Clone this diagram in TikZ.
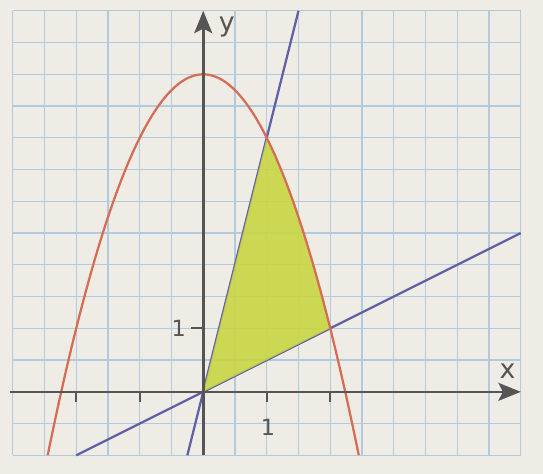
\documentclass[tikz,border=0pt]{standalone}
\usepackage{fontspec}
\setmainfont{DejaVu Sans}
\usetikzlibrary{arrows.meta}

\begin{document}
\begin{tikzpicture}
\definecolor{paper}{RGB}{239,235,229}
\definecolor{gridblue}{RGB}{176,203,222}
\definecolor{axisgray}{RGB}{85,85,85}
\definecolor{parab}{RGB}{214,108,84}
\definecolor{lineblue}{RGB}{96,96,168}
\definecolor{area}{RGB}{200,214,64}

% Paper and frame
\fill[paper] (-3.2,-1.29) rectangle (5.35,6.17);
\useasboundingbox (-3.2,-1.29) rectangle (5.35,6.17);

% Grid (half units)
\draw[gridblue, line width=0.55pt] (-3,-1) grid[step=0.5] (5,6);

% Straight lines y=4x and y=x/2
\draw[lineblue, line width=1pt] (-0.25,-1) -- (1.5,6);
\draw[lineblue, line width=1pt] (-2,-1) -- (5,2.5);

% Shaded area
\fill[area, fill opacity=0.88] (0,0) -- (1,4) -- plot[domain=1:2, samples=30, smooth] (\x,{5-\x*\x}) -- cycle;

% Parabola y=5-x^2
\draw[parab, line width=1pt] plot[domain=-2.449:2.449, samples=80, smooth] (\x,{5-\x*\x});

% ---- AXES ----
\draw[axisgray, line width=1.2pt, -{Stealth[length=10pt, width=8pt, inset=2pt]}] (-3.05,0) -- (5,0);
\draw[axisgray, line width=1.2pt, -{Stealth[length=10pt, width=8pt, inset=2pt]}] (0,-1) -- (0,6);
\node[text=axisgray, font=\large] (xlab) at (4.79,0.33) {x};
\node[text=axisgray, font=\large] (ylab) at (0.37,5.75) {y};

% Ticks
\foreach \t in {-2,-1,1,2}
  \draw[axisgray, line width=1pt] (\t,0) -- (\t,-0.16);
\draw[axisgray, line width=1pt] (0,1) -- (-0.2,1);
\node[text=axisgray, anchor=north] (xone) at (1.02,-0.3) {1};
\node[text=axisgray, anchor=east] (yone) at (-0.15,1) {1};

\end{tikzpicture}
\end{document}
